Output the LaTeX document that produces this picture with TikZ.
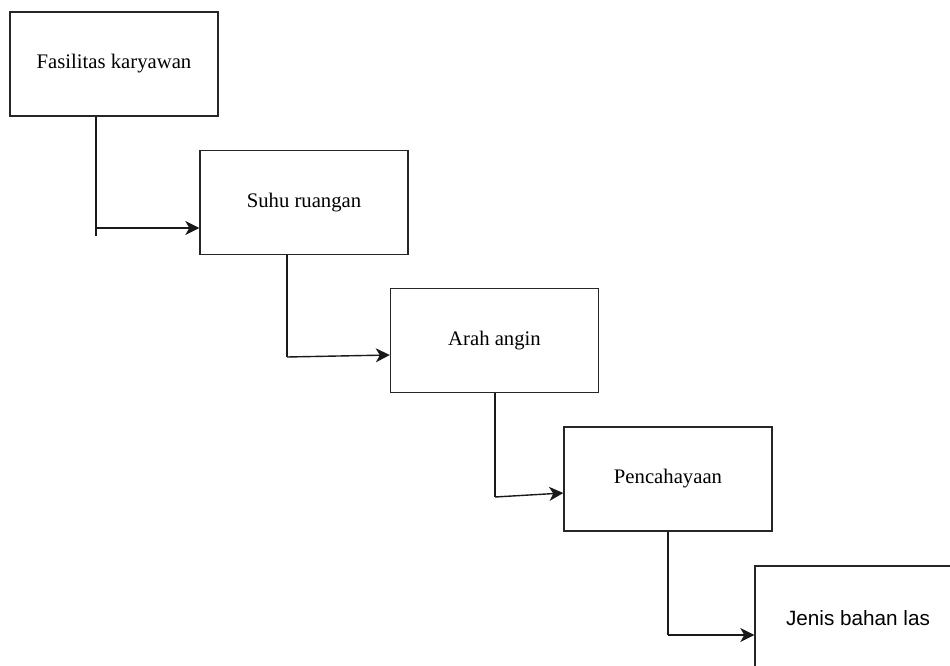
\documentclass[tikz,border=0pt]{standalone}
\usepackage{fontspec}
\setmainfont{Liberation Serif}
\newfontfamily\arialf{Liberation Sans}
\usetikzlibrary{arrows.meta}
\tikzset{
  x=1pt, y=-1pt,
  stepbox/.style={draw=black!85, line width=1.4pt, fill=white, inner sep=0pt,
    minimum width=208pt, minimum height=104pt,
    font=\fontsize{20.7}{24}\selectfont},
  conn/.style={draw=black!90, line width=1.4pt},
  arr/.style={conn, -{Stealth[length=14pt, width=14pt, inset=4pt]}}
}
\begin{document}
\begin{tikzpicture}
\clip (0,0) rectangle (950,666);
\fill[white] (0,0) rectangle (950,666);

% the five items of the chain
\node[stepbox] (b1) at (114,64)    {Fasilitas karyawan};
\node[stepbox] (b2) at (304,202.5) {Suhu ruangan};
\node[stepbox] (b3) at (494.5,340.5) {Arah angin};
\node[stepbox] (b4) at (668,479)   {Pencahayaan};
\node[stepbox, minimum width=206pt, font=\arialf\fontsize{20.7}{24}\selectfont] (b5) at (858,618) {Jenis bahan las};

% bend points of the elbow connectors
\coordinate (k1) at (96,228);
\coordinate (k1t) at (96,236);
\coordinate (k2) at (287,357);
\coordinate (k3) at (495,497);
\coordinate (k4) at (668,635);

% elbow connectors
\draw[conn] (b1.south -| k1) -- (k1t);
\draw[arr]  (k1) -- (b2.west |- k1);

\draw[conn] (b2.south -| k2) -- (k2);
\draw[arr]  (k2) -- (b3.west |- {(0,355)});

\draw[conn] (b3.south -| k3) -- (k3);
\draw[arr]  (k3) -- (b4.west |- {(0,493)});

\draw[conn] (b4.south -| k4) -- (k4);
\draw[arr]  (k4) -- (b5.west |- k4);
\end{tikzpicture}
\end{document}
